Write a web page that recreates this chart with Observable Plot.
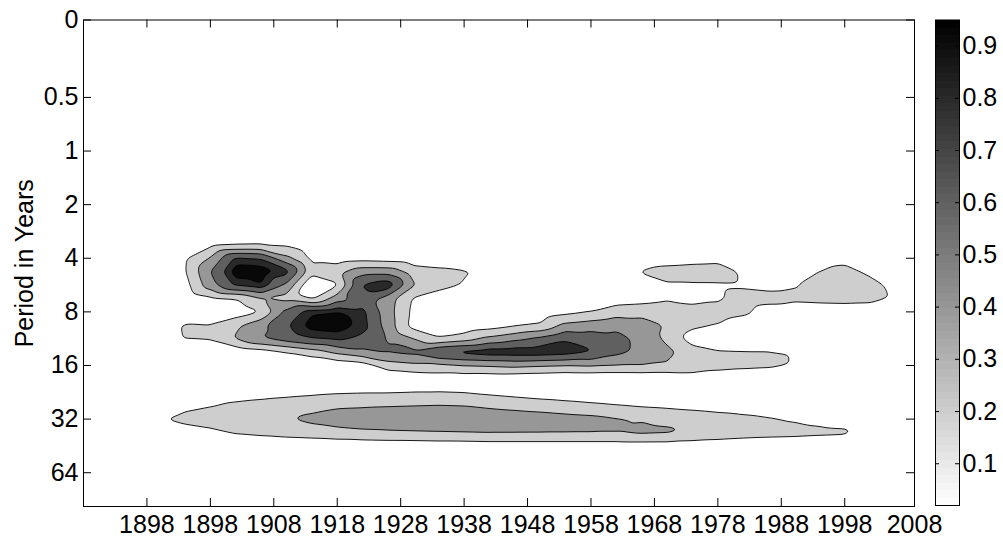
<!DOCTYPE html>
<html>
<head>
<meta charset="utf-8">
<script src="https://cdn.jsdelivr.net/npm/d3@7"></script>
<script src="https://cdn.jsdelivr.net/npm/@observablehq/plot@0.6"></script>
<style>
  html, body { margin: 0; padding: 0; background: #fff; }
  #chart { position: relative; width: 1003px; height: 541px; background: #fff; }
  #chart svg { position: absolute; top: 0; }
</style>
</head>
<body>
<div id="chart"></div>
<script>
// ---- data ----
// x: year index (0 = left edge of the axes), y: log2(period in years)
const yearCols = [0,4,8,12,16,20,24,28,32,36,40,44,48,52,56,60,64,68,72,76,80,84,88,92,96,100,104,108,112,116,120,124,128];
const periodRows = [1.25,1.5,1.75,2,2.25,2.5,2.75,3,3.25,3.5,3.75,4,4.25,4.5,4.75,5,5.25,5.5,5.75];
// coherence values, one row per periodRows entry, one column per yearCols entry
const coherence = [
  [0,0,0,0,0,0,0,0,0,0,0,0,0,0,0,0,0,0,0,0,0,0,0,0,0,0,0,0,0,0,0,0,0],
  [0,0,0,0,0,0.02,0.05,0.05,0.04,0,0,0,0,0,0,0,0,0,0,0,0,0,0,0,0,0,0,0,0,0,0,0,0],
  [0,0,0,0,0.05,0.15,0.18,0.19,0.17,0.05,0.02,0,0,0,0,0,0,0,0,0,0,0,0,0,0,0,0,0,0,0,0,0,0],
  [0,0,0,0.05,0.17,0.42,0.84,0.8,0.45,0.15,0.1,0.12,0.1,0.08,0.05,0.04,0,0,0,0,0,0,0.05,0.07,0.1,0.12,0.04,0,0,0.06,0.09,0,0],
  [0,0,0,0.07,0.18,0.6,1,1,0.88,0.27,0.33,0.52,0.52,0.3,0.26,0.22,0.18,0.05,0,0,0,0.05,0.22,0.3,0.32,0.33,0.16,0.06,0.05,0.2,0.31,0.13,0],
  [0,0,0,0.04,0.12,0.52,0.84,0.92,0.56,0,0.17,0.82,0.93,0.42,0.3,0.18,0.1,0,0,0,0,0,0.08,0.17,0.17,0.17,0.17,0.15,0.18,0.33,0.39,0.31,0.1],
  [0,0,0,0,0.05,0.15,0.19,0.38,0.33,0.16,0.5,0.72,0.5,0.18,0.05,0.02,0,0,0,0.03,0.06,0.1,0.12,0.15,0.12,0.17,0.28,0.26,0.26,0.28,0.29,0.28,0.16],
  [0,0,0,0,0.05,0.08,0.08,0.19,0.65,0.9,0.94,0.85,0.48,0.15,0.02,0,0.03,0.05,0.08,0.14,0.2,0.3,0.32,0.42,0.3,0.28,0.24,0.12,0.03,0.04,0.05,0.03,0],
  [0,0,0,0.1,0.22,0.21,0.36,0.55,0.78,0.98,1,0.87,0.5,0.12,0.05,0.06,0.1,0.17,0.22,0.45,0.5,0.55,0.5,0.38,0.24,0.19,0.1,0.04,0,0,0,0,0],
  [0,0,0,0.1,0.21,0.22,0.42,0.6,0.7,0.8,0.84,0.75,0.58,0.4,0.22,0.3,0.45,0.55,0.65,0.78,0.72,0.66,0.55,0.35,0.1,0.05,0.08,0.06,0,0,0,0,0],
  [0,0,0,0,0.03,0.05,0.05,0.1,0.2,0.3,0.45,0.55,0.62,0.66,0.82,0.88,0.92,0.92,0.92,0.89,0.82,0.66,0.55,0.45,0.3,0.22,0.21,0.21,0.19,0,0,0,0],
  [0,0,0,0,0,0,0,0,0,0.02,0.05,0.1,0.3,0.35,0.35,0.4,0.42,0.45,0.42,0.4,0.42,0.4,0.4,0.38,0.41,0.3,0.26,0.24,0.19,0,0,0,0],
  [0,0,0,0,0,0,0,0,0,0,0,0,0.02,0.05,0.08,0.07,0.06,0.05,0.04,0.02,0.02,0.02,0.03,0.03,0.02,0.02,0.02,0.02,0,0,0,0,0],
  [0,0,0,0,0.05,0.08,0.1,0.12,0.14,0.16,0.18,0.19,0.19,0.2,0.2,0.19,0.16,0.13,0.1,0.08,0.06,0.04,0.03,0.02,0,0,0,0,0,0,0,0,0],
  [0,0,0,0.05,0.15,0.19,0.24,0.27,0.3,0.33,0.37,0.38,0.39,0.4,0.41,0.4,0.36,0.33,0.3,0.27,0.24,0.21,0.18,0.16,0.13,0.1,0.08,0.06,0.03,0,0,0,0],
  [0,0,0.03,0.19,0.26,0.3,0.33,0.35,0.39,0.45,0.5,0.52,0.55,0.56,0.56,0.56,0.55,0.53,0.51,0.48,0.46,0.42,0.39,0.36,0.34,0.3,0.26,0.22,0.18,0.14,0.1,0.03,0],
  [0,0,0,0.02,0.1,0.15,0.22,0.25,0.28,0.3,0.33,0.36,0.37,0.38,0.39,0.4,0.41,0.41,0.41,0.41,0.41,0.41,0.44,0.43,0.37,0.33,0.3,0.28,0.27,0.25,0.24,0.1,0],
  [0,0,0,0,0,0.03,0.03,0.04,0.05,0.06,0.07,0.07,0.08,0.08,0.09,0.09,0.1,0.1,0.1,0.1,0.1,0.1,0.1,0.1,0.09,0.08,0.06,0.05,0.04,0.03,0,0,0],
  [0,0,0,0,0,0,0,0,0,0,0,0,0,0,0,0,0,0,0,0,0,0,0,0,0,0,0,0,0,0,0,0,0]
];
const contourLevels = [0.2, 0.4, 0.6, 0.8, 0.92];
const colorRange = [0.02, 0.95];

const xTicks = [10,20,30,40,50,60,70,80,90,100,110,120,131];
const xTickLabels = ["1898","1898","1908","1918","1928","1938","1948","1958","1968","1978","1988","1998","2008"];
const yTicks = [-2.444,-1,0,1,2,3,4,5,6];
const yTickLabels = ["0","0.5","1","2","4","8","16","32","64"];
const colorbarTicks = [0.1,0.2,0.3,0.4,0.5,0.6,0.7,0.8,0.9];
const yTitle = "Period in Years";

// ---- build ----
const points = periodRows.flatMap((p, i) => yearCols.map((t, j) => ({x: t, y: p, v: coherence[i][j]})));

const W = 1003, H = 541;
const mL = 83, mR = 89, mT = 19.5, mB = 35;
const innerW = W - mL - mR, innerH = H - mT - mB;
const FS = 25;
const font = {fontFamily: "'Liberation Sans', Arial, Helvetica, sans-serif", fontSize: FS + "px", color: "black", background: "transparent", overflow: "visible"};
const colorScale = {type: "linear", domain: colorRange, range: ["white", "black"], interpolate: "rgb", clamp: true};

const main = Plot.plot({
  width: W, height: H,
  marginLeft: mL, marginRight: mR, marginTop: mT, marginBottom: mB,
  style: font,
  x: {domain: [0, 131]},
  y: {domain: [-2.444, 6.63], reverse: true},
  color: colorScale,
  marks: [
    Plot.contour(points, {
      x: "x", y: "y", fill: "v",
      thresholds: contourLevels,
      interpolate: "barycentric",
      pixelSize: 1, blur: 2,
      stroke: "black", strokeWidth: 0.9
    }),
    Plot.frame({stroke: "black", strokeWidth: 1}),
    Plot.tickX(xTicks, {x: d => d, insetTop: innerH - 8, stroke: "black"}),
    Plot.tickX(xTicks, {x: d => d, insetBottom: innerH - 8, stroke: "black"}),
    Plot.tickY(yTicks, {y: d => d, insetRight: innerW - 8, stroke: "black"}),
    Plot.tickY(yTicks, {y: d => d, insetLeft: innerW - 8, stroke: "black"}),
    Plot.axisX({ticks: xTicks, tickSize: 0, tickPadding: 9, label: null,
      tickFormat: d => xTickLabels[xTicks.indexOf(d)], fontSize: FS}),
    Plot.axisY({ticks: yTicks, tickSize: 0, tickPadding: 5, label: null,
      tickFormat: d => yTickLabels[yTicks.indexOf(d)], fontSize: FS}),
    Plot.text([yTitle], {text: d => d, frameAnchor: "left", dx: -59, rotate: -90,
      textAnchor: "middle", lineAnchor: "middle", fontSize: FS, fill: "black"})
  ]
});
main.style.left = "0px";

const colorbar = Plot.plot({
  width: 68, height: H,
  marginLeft: 0, marginRight: 44, marginTop: mT, marginBottom: 36,
  style: font,
  x: {domain: [0, 1], axis: null},
  y: {domain: colorRange},
  color: colorScale,
  marks: [
    Plot.raster({fill: (x, y) => y, x1: 0, x2: 1, y1: colorRange[0], y2: colorRange[1],
      width: 1, height: 64, imageRendering: "pixelated"}),
    Plot.frame({stroke: "black", strokeWidth: 1}),
    Plot.tickY(colorbarTicks, {y: d => d, insetRight: 20, stroke: "black"}),
    Plot.tickY(colorbarTicks, {y: d => d, insetLeft: 20, stroke: "black"}),
    Plot.axisY({anchor: "right", ticks: colorbarTicks, tickSize: 0, tickPadding: 3, label: null,
      tickFormat: d => d.toFixed(1), fontSize: FS})
  ]
});
colorbar.style.left = "935px";

const chart = document.getElementById("chart");
chart.appendChild(main);
chart.appendChild(colorbar);
</script>
</body>
</html>
